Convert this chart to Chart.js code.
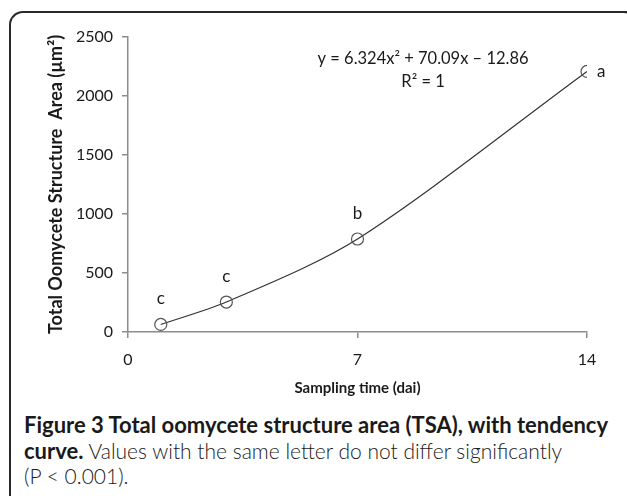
<!DOCTYPE html>
<html>
<head>
<meta charset="utf-8">
<script src="https://cdn.jsdelivr.net/npm/chart.js@4"></script>
<style>
  body { margin: 0; background: #fff; width: 627px; height: 496px; overflow: hidden; position: relative; font-family: Lato, "Open Sans", sans-serif; }
  #frame { position: absolute; left: 9px; top: 11px; width: 640px; height: 520px; border-top: 2px solid #2a2a2a; border-left: 2px solid #2a2a2a; border-top-left-radius: 14px; }
  #corner { position: absolute; left: 612px; top: 11px; width: 20px; height: 20px; border-top: 2px solid #2a2a2a; border-right: 2px solid #2a2a2a; border-top-right-radius: 10px; }
  #wrap { position: absolute; left: 0; top: 0; width: 627px; height: 410px; }
  #caption { position: absolute; left: 24px; top: 412px; width: 610px; color: #1a1a1a; font-size: 22px; line-height: 25.5px; white-space: nowrap; }
  #caption b { font-weight: 700; }
  #caption .light { font-weight: 300; font-size: 21px; }
</style>
</head>
<body>
<div id="frame"></div>
<div id="corner"></div>
<div id="wrap"><canvas id="chart" width="627" height="410"></canvas></div>
<div id="caption">
  <b>Figure 3 Total oomycete structure area (TSA), with tendency<br>curve.</b><span class="light"> Values with the same letter do not differ significantly<br>(P &lt; 0.001).</span>
</div>
<script>
// sampling days and total structure area
const days = [1, 3, 7, 14];
const tsa = [64, 254, 788, 2208];
const letters = ['c', 'c', 'b', 'a'];
const xTicks = [0, 7, 14];
const yTicks = [0, 500, 1000, 1500, 2000, 2500];
const equation = 'y = 6.324x² + 70.09x \u2013 12.86';
const rSquared = 'R² = 1';

const axisGray = '#8c8c8c';
const textColor = '#1a1a1a';

// letters above the points, equation in the top area
const labelPlugin = {
  id: 'labels',
  afterDatasetsDraw(chart) {
    let ctx = chart.ctx;
    let meta = chart.getDatasetMeta(0);
    ctx.save();
    ctx.fillStyle = textColor;
    ctx.font = '17px Lato';
    ctx.textBaseline = 'middle';
    meta.data.forEach((pt, i) => {
      if (i === meta.data.length - 1) {
        ctx.textAlign = 'left';
        ctx.fillText(letters[i], pt.x + 10, pt.y);
      } else {
        ctx.textAlign = 'center';
        ctx.fillText(letters[i], pt.x, pt.y - 26);
      }
    });
    let xs = chart.scales.x, ys = chart.scales.y;
    ctx.font = '16.5px Lato';
    ctx.textAlign = 'center';
    ctx.fillText(equation, xs.getPixelForValue(9), ys.getPixelForValue(2320));
    ctx.fillText(rSquared, xs.getPixelForValue(9), ys.getPixelForValue(2120));
    ctx.restore();
  }
};

new Chart(document.getElementById('chart'), {
  type: 'scatter',
  data: {
    datasets: [{
      data: days.map((d, i) => ({ x: d, y: tsa[i] })),
      showLine: true,
      tension: 0.3,
      borderColor: '#333',
      borderWidth: 1.2,
      pointRadius: 6,
      pointBorderWidth: 1.2,
      pointBorderColor: '#555',
      pointBackgroundColor: 'rgba(255,255,255,0)'
    }]
  },
  options: {
    responsive: false,
    animation: false,
    layout: { padding: { left: 0, right: 40, top: 37, bottom: 0 } },
    plugins: { legend: { display: false }, tooltip: { enabled: false } },
    scales: {
      x: {
        type: 'linear', min: 0, max: 14,
        afterBuildTicks: s => { s.ticks = xTicks.map(v => ({ value: v })); },
        afterFit: s => { s.height = 78; },
        border: { color: axisGray, width: 1.5 },
        grid: { drawOnChartArea: false, color: axisGray, tickLength: 6, lineWidth: 1.5 },
        ticks: { color: textColor, font: { family: 'Lato', size: 16 }, padding: 12, maxRotation: 0, callback: v => String(v) },
        title: { display: true, text: 'Sampling time (dai)', color: textColor, font: { family: 'Lato', size: 15, weight: 'bold' }, padding: { top: 0, bottom: 13 } }
      },
      y: {
        min: 0, max: 2500,
        afterBuildTicks: s => { s.ticks = yTicks.map(v => ({ value: v })); },
        afterFit: s => { s.width = 128; },
        border: { color: axisGray, width: 1.5 },
        grid: { drawOnChartArea: false, color: axisGray, tickLength: 6, lineWidth: 1.5 },
        ticks: { color: textColor, font: { family: 'Lato', size: 16 }, padding: 9, callback: v => String(v) },
        title: { display: true, text: 'Total Oomycete Structure  Area (µm²)', color: textColor, font: { family: 'Lato', size: 18, weight: 'bold' }, padding: { top: 45, bottom: 0 } }
      }
    }
  },
  plugins: [labelPlugin]
});
</script>
</body>
</html>
